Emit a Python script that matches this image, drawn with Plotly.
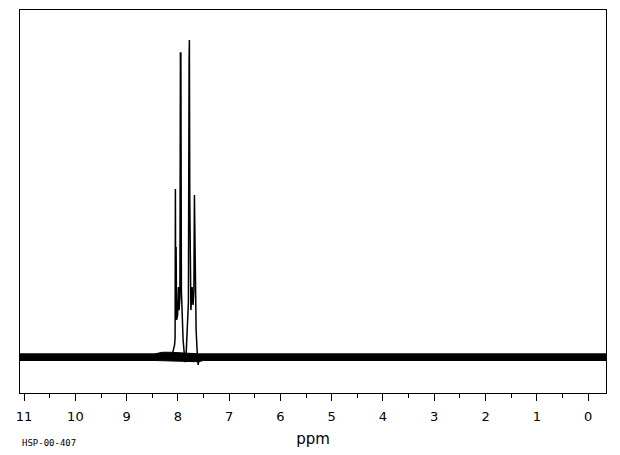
import plotly.graph_objects as go

# Spectrum trace (chemical shift in ppm, relative intensity, tallest peak = 100)
ppm = [11.08, 8.40, 8.152, 8.113, 8.084, 8.065, 8.055, 8.049, 8.043, 8.035, 8.026, 8.006,
       7.990, 7.977, 7.961, 7.951, 7.942, 7.932, 7.918, 7.899, 7.879, 7.860, 7.840,
       7.821, 7.795, 7.782, 7.776, 7.768, 7.762, 7.747, 7.733, 7.723, 7.704, 7.688,
       7.678, 7.669, 7.659, 7.645, 7.626, 7.606, 7.587, 7.567, -0.35]
intensity = [0.0, 0.0, 0.0, 0.6, 2.2, 3.8, 6.0, 53.0, 18.0, 34.7, 11.7, 13.2,
             22.1, 14.8, 18.9, 95.9, 95.9, 21.1, 12.6, 5.4, 1.6, -1.6, 0.6,
             6.9, 17.4, 93.7, 100.0, 49.5, 32.8, 14.8, 18.0, 22.1, 16.4, 21.1,
             51.1, 30.6, 20.2, 8.5, 2.2, -2.5, -0.9, 0.0, 0.0]

# Baseline noise envelope
band_ppm = [11.08, 8.45, 8.30, 8.14, 7.60, 7.50, -0.35]
band_hi = [1.0, 1.0, 1.5, 1.5, 1.0, 1.0, 1.0]
band_lo = [-1.1, -1.1, -1.1, -1.1, -1.5, -1.1, -1.1]

x_ticks = list(range(0, 12))
tick_text = [str(v) for v in x_ticks]

fig = go.Figure()
fig.add_trace(go.Scatter(
    x=band_ppm + band_ppm[::-1], y=band_hi + band_lo[::-1],
    fill="toself", fillcolor="black", mode="lines",
    line=dict(color="black", width=1), hoverinfo="skip", showlegend=False))
fig.add_trace(go.Scatter(
    x=ppm, y=intensity, mode="lines",
    line=dict(color="black", width=1.5), showlegend=False))

fig.update_layout(
    width=620, height=455,
    margin=dict(l=20, r=14, t=10, b=62),
    paper_bgcolor="white", plot_bgcolor="white",
    xaxis=dict(
        range=[11.08, -0.35], tickmode="array", tickvals=x_ticks, ticktext=tick_text,
        ticks="outside", ticklen=7, tickcolor="black", tickwidth=1,
        minor=dict(dtick=0.5, tick0=0, ticks="outside", ticklen=4, tickcolor="black"),
        showline=True, linecolor="black", linewidth=1, mirror=True,
        showgrid=False, zeroline=False, ticklabelstandoff=4,
        tickfont=dict(family="DejaVu Sans", size=13, color="black"),
        title=dict(text="ppm", font=dict(family="DejaVu Sans", size=15, color="black"),
                   standoff=10),
    ),
    yaxis=dict(
        range=[-11.36, 109.5], showticklabels=False, ticks="",
        showline=True, linecolor="black", linewidth=1, mirror=True,
        showgrid=False, zeroline=False,
    ),
    annotations=[dict(text="HSP-00-407", x=0, xref="paper", y=-0.13, yref="paper",
                      xanchor="left", yanchor="middle", showarrow=False,
                      font=dict(family="DejaVu Sans Mono", size=9, color="black"))],
)

fig.write_html("out.html", config={"displayModeBar": False},
               post_script="document.body.style.margin='0px';")
